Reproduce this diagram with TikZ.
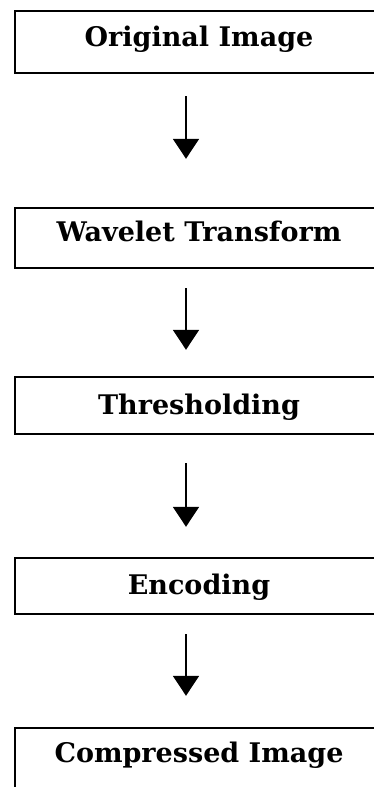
\documentclass[tikz,border=0pt]{standalone}
\usepackage{fontspec}
\setmainfont{DejaVu Serif}
\usepackage{tikz}
\usetikzlibrary{arrows.meta,positioning}

\tikzset{
  etape/.style={rectangle, draw=black, line width=2.4pt, minimum width=368pt, inner sep=0pt, text height=20pt, text depth=#1, font=\fontsize{27}{31}\selectfont\bfseries},
  etape/.default=0pt,
  fleche/.style={-{Triangle[width=26pt,length=20pt]}, line width=1.8pt},
}

\begin{document}
\begin{tikzpicture}[x=1pt,y=-1pt]

\useasboundingbox (0,0) rectangle (374,787);
\clip (0,0) rectangle (374,787);

% etapes
\node[etape=12pt, minimum height=62pt] (orig) at (199,42) {Original Image};
\node[etape=14pt, minimum height=60pt] (wave) at (199,238) {Wavelet Transform};
\node[etape=3pt, minimum height=57pt] (thre) at (199,405.5) {Thresholding};
\node[etape=4pt, minimum height=56pt] (enco) at (199,586) {Encoding};
\node[etape=14pt, minimum height=62pt] (comp) at (199,759) {Compressed Image};

% fleches
\foreach \a/\b/\s/\e in {orig/wave/22/48, wave/thre/19/26, thre/enco/28/30, enco/comp/19/31}
  \draw[fleche, shorten <=\s pt, shorten >=\e pt] ([xshift=-13pt]\a.south) -- ([xshift=-13pt]\b.north);

\end{tikzpicture}
\end{document}
